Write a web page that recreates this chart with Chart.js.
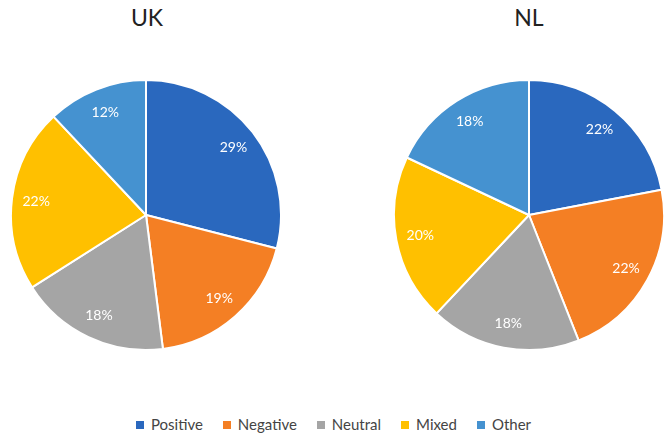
<!DOCTYPE html>
<html><head><meta charset="utf-8">
<script src="https://cdn.jsdelivr.net/npm/chart.js@4"></script>
<style>
html,body{margin:0;padding:0;background:#fff;}
#wrap{position:relative;width:667px;height:437px;overflow:hidden;font-family:Lato,"Open Sans",sans-serif;}
.ttl{position:absolute;top:3px;width:120px;text-align:center;font-size:23px;color:#222;}
.cv{position:absolute;}
#legend{position:absolute;top:415px;left:0;width:667px;text-align:center;font-size:15px;color:#444;}
#legend span.item{display:inline-block;margin:0 10px;}
#legend span.sw{display:inline-block;width:8px;height:8px;margin-right:7px;vertical-align:1px;}
</style></head>
<body><div id="wrap">
<div class="ttl" id="t1" style="left:87px"></div>
<div class="ttl" id="t2" style="left:469px"></div>
<div class="cv" style="left:10px;top:79px;width:272px;height:272px"><canvas id="c1" width="272" height="272"></canvas></div>
<div class="cv" style="left:393px;top:79px;width:272px;height:272px"><canvas id="c2" width="272" height="272"></canvas></div>
<div id="legend"></div>
</div>
<script>
const categories = ['Positive','Negative','Neutral','Mixed','Other'];
const ukValues = [29, 19, 18, 22, 12];
const nlValues = [22, 22, 18, 20, 18];
const titles = ['UK','NL'];
const colors = ['#2A68BE','#F47F24','#A5A5A5','#FFC000','#4592D0'];

document.getElementById('t1').textContent = titles[0];
document.getElementById('t2').textContent = titles[1];
const lg = document.getElementById('legend');
categories.forEach((c,i)=>{
  const it = document.createElement('span'); it.className='item';
  const sw = document.createElement('span'); sw.className='sw'; sw.style.background=colors[i];
  it.appendChild(sw); it.appendChild(document.createTextNode(c)); lg.appendChild(it);
});

const pctLabels = {
  id:'pctLabels',
  afterDatasetsDraw(chart){
    const ctx = chart.ctx;
    const ds = chart.data.datasets[0];
    const total = ds.data.reduce((a,b)=>a+b,0);
    chart.getDatasetMeta(0).data.forEach((arc,i)=>{
      const p = arc.getProps(['x','y','startAngle','endAngle','outerRadius'],true);
      const mid = (p.startAngle+p.endAngle)/2;
      const r = p.outerRadius*0.82;
      ctx.save();
      ctx.fillStyle='#fff';
      ctx.font='14px Lato, "Open Sans", sans-serif';
      ctx.textAlign='center'; ctx.textBaseline='middle';
      ctx.fillText(Math.round(ds.data[i]/total*100)+'%', p.x+Math.cos(mid)*r, p.y+Math.sin(mid)*r);
      ctx.restore();
    });
  }
};

function makePie(id, values){
  new Chart(document.getElementById(id), {
    type:'pie',
    data:{labels:categories, datasets:[{data:values, backgroundColor:colors, borderColor:'#fff', borderWidth:2}]},
    options:{responsive:false, animation:false, layout:{padding:0},
      plugins:{legend:{display:false}, tooltip:{enabled:false}, title:{display:false}}},
    plugins:[pctLabels]
  });
}
makePie('c1', ukValues);
makePie('c2', nlValues);
</script>
</body></html>
